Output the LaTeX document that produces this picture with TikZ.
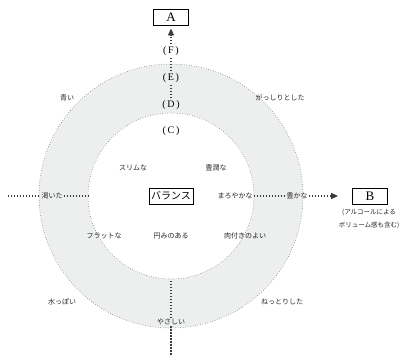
\documentclass[tikz,border=0pt]{standalone}
\usepackage{fontspec}
\setmainfont{Liberation Serif}
\newfontfamily\jp{Noto Sans CJK JP}
\usetikzlibrary{arrows.meta}
\definecolor{ringgray}{RGB}{237,238,238}
\definecolor{ink}{RGB}{60,60,60}
\begin{document}
\begin{tikzpicture}[x=1pt,y=-1pt,
  lbl/.style={font=\jp\fontsize{7}{8}\selectfont, inner sep=1pt, text=black!85},
  par/.style={font=\fontsize{10}{11}\selectfont, inner sep=2pt},
  boxnode/.style={draw, line width=0.8pt, inner sep=0pt, minimum width=35pt, minimum height=16pt, font=\fontsize{13}{14}\selectfont},
  dotline/.style={ink, line width=1.4pt, dash pattern=on 1.4pt off 1.6pt},
  ringline/.style={black!70, line width=0.5pt, dotted},
  arr/.style={-{Triangle[length=7pt,width=6pt]}}]
\useasboundingbox (0,0) rectangle (403,356);
\coordinate (c) at (171,196);
\fill[ringgray] (c) circle (132);
\fill[white] (c) circle (83);
\draw[ringline] (c) circle (132);
\draw[ringline] (c) circle (83);

% top axis
\node[boxnode] (A) at (171,17) {A};
\node[par] (F) at (171,51) {(\,F\,)};
\node[par] (E) at (171,78) {(\,E\,)};
\node[par] (D) at (171,105) {(\,D\,)};
\node[par] (C) at (171,131) {(\,C\,)};
\draw[dotline] (D.north) -- (E.south);
\draw[dotline] (E.north) -- (F.south);
\draw[dotline,arr] (F.north) -- ([yshift=-3pt]A.south);

% labels
\node[lbl] (aoi) at (67,98) {青い};
\node[lbl] (gasshiri) at (280,98) {がっしりとした};
\node[lbl] (slim) at (133,168) {スリムな};
\node[lbl] (hojun) at (216,168) {豊潤な};
\node[lbl] (kawaita) at (52,196) {渇いた};
\node[draw, line width=0.8pt, inner sep=2pt, minimum height=16pt, font=\jp\fontsize{10}{11}\selectfont] (bal) at (171,196) {バランス};
\node[lbl] (maro) at (235,196) {まろやかな};
\node[lbl] (yutaka) at (297,196) {豊かな};
\node[boxnode] (B) at (370,196) {B};
\node[lbl, align=center, font=\jp\fontsize{6.5}{13}\selectfont] (Bnote) at (369,219) {(アルコールによる\\ボリューム感も含む)};
\node[lbl] (flat) at (104,236) {フラットな};
\node[lbl] (marumi) at (171,236) {円みのある};
\node[lbl] (niku) at (245,236) {肉付きのよい};
\node[lbl] (mizu) at (62,302) {水っぽい};
\node[lbl] (netto) at (282,302) {ねっとりした};
\node[lbl] (yasa) at (171,322) {やさしい};

% horizontal axis
\coordinate (hl) at (8,196);
\coordinate (il) at (88,196);
\draw[dotline] (hl) -- (kawaita.west);
\draw[dotline] (kawaita.east) -- (il);
\draw[dotline] (maro.east) -- (yutaka.west);
\draw[dotline,arr] (yutaka.east) -- ([xshift=-14pt]B.west);

% bottom axis
\coordinate (ib) at (171,281);
\coordinate (bb) at (171,356);
\draw[dotline] (ib) -- (yasa.north);
\draw[dotline] (yasa.south) -- (bb);
\end{tikzpicture}
\end{document}
